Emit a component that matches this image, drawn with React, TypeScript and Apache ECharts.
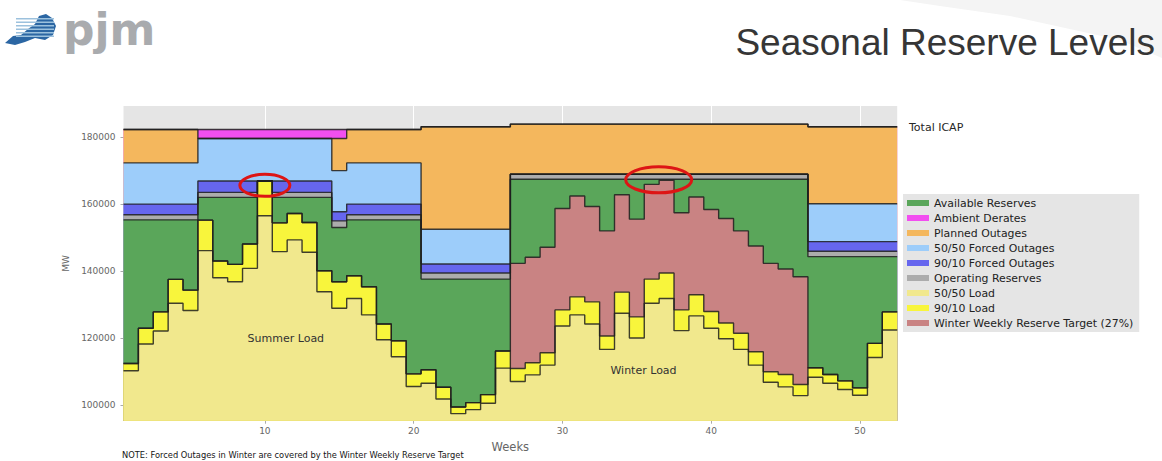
import React, { useEffect, useRef } from "react";
import * as echarts from "echarts";

// ---------- data ----------
const weeks = [
  1, 2, 3, 4, 5, 6, 7, 8, 9, 10, 11, 12, 13, 14, 15, 16, 17, 18, 19, 20, 21, 22, 23, 24, 25, 26,
  27, 28, 29, 30, 31, 32, 33, 34, 35, 36, 37, 38, 39, 40, 41, 42, 43, 44, 45, 46, 47, 48, 49, 50, 51, 52,
];
const xTickValues = [10, 20, 30, 40, 50];
const yTickValues = [100000, 120000, 140000, 160000, 180000];

// 50/50 load (MW)
const load5050 = [
  110200, 118200, 122100, 130400, 128200, 146100, 138000, 136800, 140800, 156500, 145800, 149300, 145600,
  133800, 128900, 131800, 126900, 119500, 114400, 105500, 106500, 101800, 97400, 98600, 100500, 111000,
  107000, 109000, 111900, 123600, 126900, 124200, 116600, 127400, 120000, 130400, 131800, 122200, 126600,
  122900, 119800, 116600, 111900, 106800, 105400, 102800, 108300, 106500, 104600, 102900, 114200, 122400,
];
// 90/10 load (MW)
const load9010 = [
  112400, 122900, 127800, 137500, 134300, 155200, 143000, 142000, 148100, 166900, 154400, 157200, 154500,
  140100, 136800, 138600, 135300, 124200, 119200, 109300, 110500, 105300, 99400, 100700, 103100, 116100,
  110900, 112600, 115600, 128400, 132300, 130800, 120600, 133700, 126300, 137600, 139400, 128400, 132900,
  127900, 124500, 121400, 115900, 109900, 109100, 106100, 111100, 109100, 107200, 105100, 118400, 127800,
];
// Winter weekly reserve target (top level, winter weeks only)
const winterTargetTop = [
  null, null, null, null, null, null, null, null, null, null, null, null, null,
  null, null, null, null, null, null, null, null, null, null, null, null, null,
  142300, 144100, 147100, 158700, 162400, 159300, 152000, 162800, 155500, 165900, 167100, 157400, 162100,
  158400, 155700, 152000, 147500, 142300, 140600, 138300, null, null, null, null, null, null,
];
// Top of available reserves
const availableReservesTop = [
  155300, 155300, 155300, 155300, 155300, 162000, 162000, 162000, 162000, 162000, 162000, 162000, 162000,
  162000, 153000, 155300, 155300, 155300, 155300, 155300, 137600, 137600, 137600, 137600, 137600, 137600,
  167400, 167400, 167400, 167400, 167400, 167400, 167400, 167400, 167400, 167400, 167400, 167400, 167400,
  167400, 167400, 167400, 167400, 167400, 167400, 167400, 144300, 144300, 144300, 144300, 144300, 144300,
];
// Top of operating reserves
const operatingReservesTop = [
  156800, 156800, 156800, 156800, 156800, 163500, 163500, 163500, 163500, 163500, 163500, 163500, 163500,
  163500, 155000, 156800, 156800, 156800, 156800, 156800, 139400, 139400, 139400, 139400, 139400, 139400,
  168900, 168900, 168900, 168900, 168900, 168900, 168900, 168900, 168900, 168900, 168900, 168900, 168900,
  168900, 168900, 168900, 168900, 168900, 168900, 168900, 145900, 145900, 145900, 145900, 145900, 145900,
];
// Top of 90/10 forced outages
const forced9010Top = [
  160000, 160000, 160000, 160000, 160000, 166900, 166900, 166900, 166900, 166900, 166900, 166900, 166900,
  166900, 157700, 160000, 160000, 160000, 160000, 160000, 142100, 142100, 142100, 142100, 142100, 142100,
  168900, 168900, 168900, 168900, 168900, 168900, 168900, 168900, 168900, 168900, 168900, 168900, 168900,
  168900, 168900, 168900, 168900, 168900, 168900, 168900, 148800, 148800, 148800, 148800, 148800, 148800,
];
// Top of 50/50 forced outages
const forced5050Top = [
  172300, 172300, 172300, 172300, 172300, 179600, 179600, 179600, 179600, 179600, 179600, 179600, 179600,
  179600, 170000, 172300, 172300, 172300, 172300, 172300, 152500, 152500, 152500, 152500, 152500, 152500,
  168900, 168900, 168900, 168900, 168900, 168900, 168900, 168900, 168900, 168900, 168900, 168900, 168900,
  168900, 168900, 168900, 168900, 168900, 168900, 168900, 160100, 160100, 160100, 160100, 160100, 160100,
];
// Top of planned outages
const plannedOutagesTop = [
  182300, 182300, 182300, 182300, 182300, 179600, 179600, 179600, 179600, 179600, 179600, 179600, 179600,
  179600, 179600, 182300, 182300, 182300, 182300, 182300, 183100, 183100, 183100, 183100, 183100, 183100,
  183900, 183900, 183900, 183900, 183900, 183900, 183900, 183900, 183900, 183900, 183900, 183900, 183900,
  183900, 183900, 183900, 183900, 183900, 183900, 183900, 183100, 183100, 183100, 183100, 183100, 183100,
];
// Total ICAP (top of ambient derates)
const totalIcap = [
  182300, 182300, 182300, 182300, 182300, 182300, 182300, 182300, 182300, 182300, 182300, 182300, 182300,
  182300, 182300, 182300, 182300, 182300, 182300, 182300, 183100, 183100, 183100, 183100, 183100, 183100,
  183900, 183900, 183900, 183900, 183900, 183900, 183900, 183900, 183900, 183900, 183900, 183900, 183900,
  183900, 183900, 183900, 183900, 183900, 183900, 183900, 183100, 183100, 183100, 183100, 183100, 183100,
];

const legendOrder = [
  "Available Reserves",
  "Ambient Derates",
  "Planned Outages",
  "50/50 Forced Outages",
  "90/10 Forced Outages",
  "Operating Reserves",
  "50/50 Load",
  "90/10 Load",
  "Winter Weekly Reserve Target (27%)",
];

const COLORS: Record<string, string> = {
  "50/50 Load": "#f1e88d",
  "90/10 Load": "#f8f53c",
  "Winter Weekly Reserve Target (27%)": "#c98383",
  "Available Reserves": "#5aa65a",
  "Operating Reserves": "#acacac",
  "90/10 Forced Outages": "#6666ee",
  "50/50 Forced Outages": "#9dcdfa",
  "Planned Outages": "#f4b75d",
  "Ambient Derates": "#f24ff0",
};

const EDGE = "rgba(30,30,30,0.85)";
const FONT = "DejaVu Sans, sans-serif";

export default function App() {
  const ref = useRef<HTMLDivElement>(null);

  useEffect(() => {
    const chart = echarts.init(ref.current!, null, { renderer: "svg" });

    // bottom-up stacking order
    const layers = [
      { name: "50/50 Load", top: load5050 },
      { name: "90/10 Load", top: load9010 },
      { name: "Winter Weekly Reserve Target (27%)", top: winterTargetTop },
      { name: "Available Reserves", top: availableReservesTop },
      { name: "Operating Reserves", top: operatingReservesTop },
      { name: "90/10 Forced Outages", top: forced9010Top },
      { name: "50/50 Forced Outages", top: forced5050Top },
      { name: "Planned Outages", top: plannedOutagesTop },
      { name: "Ambient Derates", top: totalIcap },
    ];

    const edges = weeks.map((w) => w - 0.5).concat([weeks[weeks.length - 1] + 0.5]);
    // cumulative level (top of each band, never below the band beneath it)
    let prev = weeks.map(() => 0);
    const cumulative = layers.map((layer) => {
      const level = weeks.map((_, i) => {
        const t = layer.top[i] as number | null;
        return t == null ? prev[i] : Math.max(t, prev[i]);
      });
      prev = level;
      return level;
    });

    // draw from the top band downwards so lower bands paint over higher ones
    const series: any[] = layers
      .map((layer, k) => {
        const level = cumulative[k];
        const color = COLORS[layer.name];
        return {
          type: "line",
          name: layer.name,
          step: "end",
          symbol: "none",
          showSymbol: false,
          silent: true,
          data: edges.map((x, i) => [x, level[Math.min(i, level.length - 1)]]),
          lineStyle: { color: EDGE, width: 1.4 },
          itemStyle: { color },
          areaStyle: { color, opacity: 1, origin: "start" },
          emphasis: { disabled: true },
        };
      })
      .reverse();

    const option: any = {
      animation: false,
      backgroundColor: "#ffffff",
      grid: {
        left: 123.5,
        right: 264.8,
        top: 106,
        bottom: 40.3,
        show: true,
        backgroundColor: "#e5e5e5",
        borderWidth: 0,
      },
      xAxis: {
        type: "value",
        min: 0.5,
        max: 52.5,
        name: "Weeks",
        nameLocation: "middle",
        nameGap: 15,
        nameTextStyle: { color: "#666", fontSize: 11.5, fontFamily: FONT },
        axisLine: { show: false },
        axisTick: { show: true, customValues: xTickValues, length: 3, lineStyle: { color: "#aaa" } },
        axisLabel: { customValues: xTickValues, color: "#666", fontSize: 9, fontFamily: FONT, margin: 6 },
        splitLine: { show: true, lineStyle: { color: "#ffffff", width: 1 } },
      },
      yAxis: {
        type: "value",
        min: 95300,
        max: 189300,
        name: "MW",
        nameLocation: "middle",
        nameGap: 44,
        nameRotate: 90,
        nameTextStyle: { color: "#666", fontSize: 9, fontFamily: FONT },
        axisLine: { show: false },
        axisTick: { show: true, customValues: yTickValues, length: 3, lineStyle: { color: "#aaa" } },
        axisLabel: {
          customValues: yTickValues,
          color: "#666",
          fontSize: 9,
          fontFamily: FONT,
          margin: 8,
          formatter: (v: number) => String(v),
        },
        splitLine: { show: false },
      },
      legend: {
        orient: "vertical",
        left: 903,
        top: 194,
        padding: [3, 6, 3, 4],
        backgroundColor: "#e5e5e5",
        icon: "rect",
        itemWidth: 22,
        itemHeight: 6,
        itemGap: 3,
        selectedMode: false,
        textStyle: { color: "#222", fontSize: 10.9, fontFamily: FONT, lineHeight: 12 },
        itemStyle: { borderWidth: 0 },
        data: legendOrder.map((n) => ({ name: n, itemStyle: { color: COLORS[n], borderWidth: 0 } })),
      },
      series,
    };

    chart.setOption(option);

    const px = (x: number, y: number) => chart.convertToPixel({ gridIndex: 0 } as any, [x, y]) as number[];
    const e1 = px(10, 165600);
    const e2 = px(36.47, 167250);
    const sl = px(11.41, 120000);
    const wl = px(35.45, 110150);

    const logoStripes = [18, 21.5, 25, 28.5, 32, 35.5].map((y) => ({
      type: "rect",
      shape: { x: 16, y, width: 38, height: 1.6 },
      style: { fill: "#9cc1dd" },
      z: 102,
    }));

    chart.setOption({
      graphic: [
        // header swoosh
        {
          type: "polygon",
          shape: { points: [[900, 0], [1162, 0], [1162, 58], [1120, 40], [1010, 16], [940, 6]] },
          style: { fill: "#f4f4f4" },
          z: 0,
        },
        // logo
        {
          type: "polygon",
          shape: {
            points: [
              [5, 43], [13, 36], [21, 35], [28, 29], [35, 24], [39, 16], [46, 14], [52, 18],
              [56, 26], [53, 35], [45, 40], [35, 38], [25, 42], [15, 45],
            ],
          },
          style: { fill: "#2b66a3" },
          z: 101,
        },
        ...logoStripes,
        {
          type: "text",
          x: 63,
          y: 29,
          style: {
            text: "pjm",
            fill: "#a9abae",
            font: "bold 44px DejaVu Sans, sans-serif",
            textVerticalAlign: "middle",
          },
          z: 101,
        },
        // title
        {
          type: "text",
          x: 1155,
          y: 42,
          style: {
            text: "Seasonal Reserve Levels",
            fill: "#363636",
            font: "37px Liberation Sans, Arial, sans-serif",
            textAlign: "right",
            textVerticalAlign: "middle",
          },
          z: 101,
        },
        // Total ICAP label
        {
          type: "text",
          x: 909,
          y: 127,
          style: {
            text: "Total ICAP",
            fill: "#262626",
            font: "11px DejaVu Sans, sans-serif",
            textVerticalAlign: "middle",
          },
          z: 101,
        },
        // note
        {
          type: "text",
          x: 122,
          y: 455,
          style: {
            text: "NOTE: Forced Outages in Winter are covered by the Winter Weekly Reserve Target",
            fill: "#151515",
            font: "8.3px DejaVu Sans, sans-serif",
            textVerticalAlign: "middle",
          },
          z: 101,
        },
        // region labels
        {
          type: "text",
          x: sl[0],
          y: sl[1],
          style: {
            text: "Summer Load",
            fill: "#333",
            font: "11px DejaVu Sans, sans-serif",
            textAlign: "center",
            textVerticalAlign: "middle",
          },
          z: 101,
        },
        {
          type: "text",
          x: wl[0],
          y: wl[1],
          style: {
            text: "Winter Load",
            fill: "#333",
            font: "11px DejaVu Sans, sans-serif",
            textAlign: "center",
            textVerticalAlign: "middle",
          },
          z: 101,
        },
        // red ellipses
        {
          type: "ellipse",
          shape: { cx: e1[0], cy: e1[1], rx: 25, ry: 11 },
          style: { fill: "none", stroke: "#dd1515", lineWidth: 3 },
          z: 103,
        },
        {
          type: "ellipse",
          shape: { cx: e2[0], cy: e2[1], rx: 33, ry: 13 },
          style: { fill: "none", stroke: "#dd1515", lineWidth: 3 },
          z: 103,
        },
      ],
    });

    return () => chart.dispose();
  }, []);

  return (
    <div
      ref={ref}
      style={{ position: "absolute", left: 0, top: 0, width: 1162, height: 461, background: "#fff" }}
    />
  );
}
